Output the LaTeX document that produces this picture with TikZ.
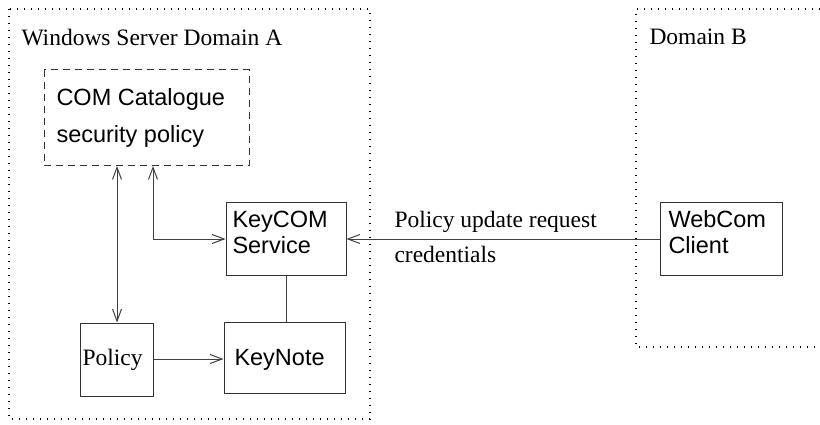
\documentclass[tikz,border=0pt]{standalone}
\usepackage{fontspec}
\setmainfont{Liberation Serif}
\setsansfont{Liberation Sans}
\usetikzlibrary{arrows.meta}
\begin{document}
\begin{tikzpicture}[x=1pt,y=-1pt,
  line width=1pt, draw=black!75,
  dom/.style={draw=black, line width=1.2pt, dash pattern=on 1.2pt off 5.8pt},
  box/.style={draw=black!80, line width=1pt, inner sep=0pt},
  sfx/.style={font=\sffamily\fontsize{23.5}{28}\selectfont, anchor=base west, inner sep=0pt},
  rmx/.style={font=\rmfamily\fontsize{23.5}{28}\selectfont, anchor=base west, inner sep=0pt},
  arr/.style={-{Straight Barb[length=12pt,width=9pt,line width=1pt]}},
  darr/.style={{Straight Barb[length=12pt,width=9pt,line width=1pt]}-{Straight Barb[length=12pt,width=9pt,line width=1pt]}}]
\useasboundingbox (0,0) rectangle (820,425);
% domains
\draw[dom] (9,9) rectangle (370,419);
\draw[dom] (820,9) -- (636,9) -- (636,347) -- (820,347);
\node[rmx] (la) at (21,46) {Windows Server Domain A};
\node[rmx] (lb) at (649,45) {Domain B};
% boxes
\draw[draw=black!80, dash pattern=on 7pt off 5pt] (44,70) rectangle (249,166);
\coordinate (cat1) at (117,166);
\coordinate (cat2) at (153,166);
\node[sfx] (t1) at (56,106) {COM Catalogue};
\node[sfx] (t2) at (56,143) {security policy};
\node[box, minimum width=120pt, minimum height=72pt] (kc) at (286,239) {};
\node[sfx] at (232,227) {KeyCOM};
\node[sfx] at (232,254) {Service};
\node[box, minimum width=121pt, minimum height=71pt] (kn) at (284.5,357.5) {};
\node[sfx] at (234,365) {KeyNote};
\node[box, minimum width=73pt, minimum height=73pt] (po) at (116.5,359.5) {};
\node[rmx] at (82,365) {Policy};
\node[box, minimum width=122pt, minimum height=72pt] (wc) at (721,239) {};
\node[sfx] at (668,228) {WebCom};
\node[sfx] at (668,254) {Client};
\node[rmx] (m1) at (394,227) {Policy update request};
\node[rmx] (m2) at (394,262) {credentials};
% connectors
\draw[darr] (cat1) -- (cat1 |- po.north);
\draw[darr] (cat2) |- (kc.west);
\draw (kc.south) -- (kn.north -| kc.south);
\draw[arr] (po.east |- 0,359) -- (kn.west |- 0,359);
\draw[arr] (wc.west) -- (kc.east);
\end{tikzpicture}
\end{document}
